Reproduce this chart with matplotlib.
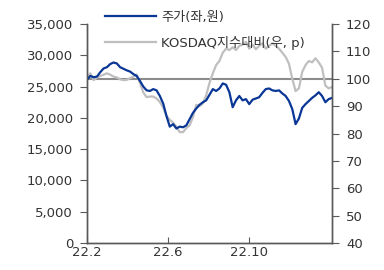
import matplotlib
matplotlib.use("Agg")
import matplotlib.pyplot as plt
import pandas as pd

plt.rcParams['font.family'] = ['DejaVu Sans', 'Noto Sans CJK KR']

# 주가 (좌, 원)
price = [26100, 26700, 26500, 26600, 27300, 27900, 28100, 28600, 28850, 28700,
         28100, 27850, 27600, 27400, 27000, 26700, 25900, 25000, 24400, 24300,
         24600, 24400, 23500, 22300, 20300, 18600, 19000, 18300, 18600, 18500,
         18800, 19800, 20800, 21500, 22100, 22500, 22800, 23700, 24600, 24300,
         24700, 25500, 25300, 24100, 21700, 22800, 23500, 22800, 23000, 22200,
         22900, 23100, 23300, 24000, 24600, 24700, 24400, 24300, 24400, 23900,
         23500, 22700, 21400, 19000, 19900, 21600, 22200, 22700, 23200, 23600,
         24100, 23500, 22500, 23000, 23200]

# KOSDAQ 지수대비 (우, p)
rel = [100.4, 102.0, 99.5, 100.5, 101.0, 101.5, 102.0, 101.5, 100.8, 100.5,
       99.8, 99.5, 99.6, 100.2, 100.8, 101.5, 98.5, 95.0, 93.3, 93.5,
       93.5, 92.8, 91.5, 89.5, 86.5, 85.0, 84.0, 82.5, 80.5, 80.5,
       82.0, 83.0, 86.0, 90.5, 90.0, 91.0, 94.0, 98.5, 102.0, 105.0,
       106.5, 109.5, 111.0, 110.5, 111.5, 110.5, 112.0, 112.5, 113.5, 111.0,
       112.5, 110.8, 112.0, 113.0, 111.0, 112.0, 113.0, 112.0, 111.0, 109.5,
       108.0, 105.5, 100.0, 95.5, 96.5, 102.5, 105.0, 106.5, 106.0, 107.5,
       106.0, 104.0, 97.5, 96.5, 97.0]

dates = pd.date_range("2022-02-01", "2023-02-01", periods=len(price))
tick_dates = pd.to_datetime(["2022-02-01", "2022-06-01", "2022-10-01"])
tick_labels = ["22.2", "22.6", "22.10"]

spine_col = "#595959"
text_col = "#333333"
fs = 9.5

fig = plt.figure(figsize=(3.84, 2.70), dpi=100)
ax = fig.add_axes([0.2266, 0.10, 0.638, 0.811])
ax2 = ax.twinx()

ax2.axhline(100, color="#8c8c8c", lw=1.5, zorder=1)
l2, = ax2.plot(dates, rel, color="#bfbfbf", lw=1.6, zorder=2)
ax.set_zorder(ax2.get_zorder() + 1)
ax.patch.set_visible(False)
l1, = ax.plot(dates, price, color="#0a3696", lw=1.6)

ax.set_ylim(0, 35000)
ax.set_yticks(range(0, 35001, 5000))
ax.set_yticklabels([f"{v:,}" for v in range(0, 35001, 5000)])
ax2.set_ylim(40, 120)
ax2.set_yticks(range(40, 121, 10))
ax.set_xlim(pd.Timestamp("2022-02-01"), pd.Timestamp("2023-02-01"))
ax.set_xticks(tick_dates)
ax.set_xticklabels(tick_labels)

for a in (ax, ax2):
    a.spines['top'].set_visible(False)
    for s in ('left', 'right', 'bottom'):
        a.spines[s].set_color(spine_col)
        a.spines[s].set_linewidth(1.0)
ax.tick_params(axis='y', direction='out', length=5, color=spine_col, labelsize=fs, labelcolor=text_col, pad=5)
ax.tick_params(axis='x', direction='in', length=4, color=spine_col, labelsize=fs, labelcolor=text_col, pad=2)
ax2.tick_params(axis='y', direction='out', length=5, color=spine_col, labelsize=fs, labelcolor=text_col, pad=5)

fig.legend([l1, l2], ["주가(좌,원)", "KOSDAQ지수대비(우, p)"], loc='upper left',
           bbox_to_anchor=(0.255, 0.985), frameon=False, fontsize=fs,
           handlelength=3.9, handletextpad=0.4, labelspacing=0.9, borderpad=0,
           labelcolor=text_col)

fig.savefig("out.png", dpi=100)
